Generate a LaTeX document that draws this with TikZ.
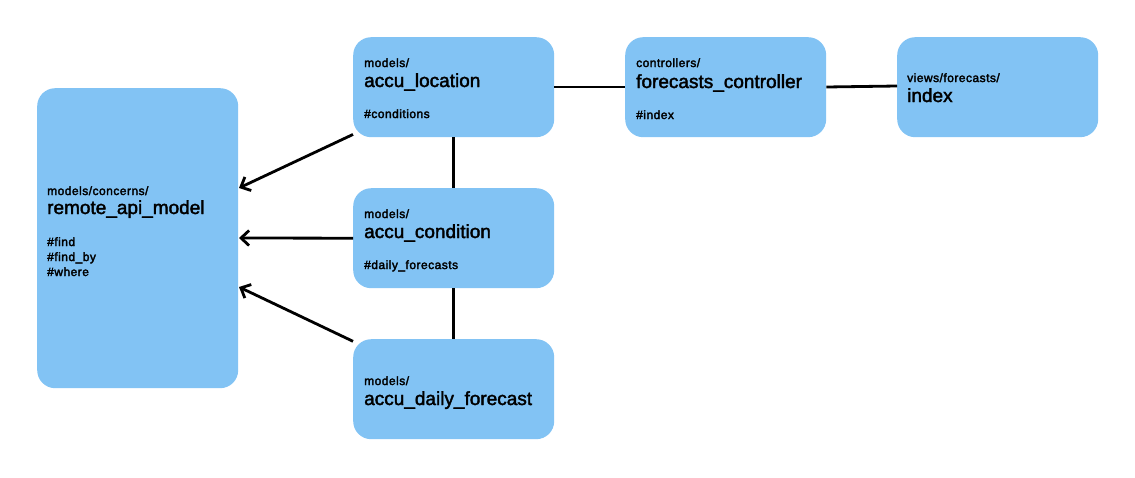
\documentclass[tikz,border=0pt]{standalone}
\usepackage{fontspec}
\setmainfont{Liberation Sans}
\newfontfamily\smallfont[FakeBold=2.5,LetterSpace=4]{Liberation Sans}
\newfontfamily\bigfont[FakeBold=2]{Liberation Sans}
\usetikzlibrary{arrows.meta}
\definecolor{boxblue}{RGB}{130,195,244}
\begin{document}
\begin{tikzpicture}[x=1pt,y=-1pt,
  box/.style={fill=boxblue, rounded corners=18pt, draw=none, inner sep=0pt, minimum width=201pt, anchor=north west},
  small/.style={anchor=base west, inner sep=0pt, font=\smallfont\fontsize{12}{14}\selectfont},
  big/.style={anchor=base west, inner sep=0pt, font=\bigfont\fontsize{19}{22}\selectfont},
  link/.style={line width=2.8pt, draw=black},
  arr/.style={link, -{Straight Barb[length=8pt,width=15pt]}}]
\useasboundingbox (0,0) rectangle (1135,477);
% boxes
\node[box, minimum height=300pt] (remote) at (37,88) {};
\node[box, minimum height=100pt] (loc) at (353,37) {};
\node[box, minimum height=100pt] (cond) at (353,188) {};
\node[box, minimum height=100pt] (daily) at (353,339) {};
\node[box, minimum height=100pt] (ctrl) at (625,37) {};
\node[box, minimum height=100pt] (idx) at (897,37) {};
% texts
\node[small] (rt1) at (47,195) {models/concerns/};
\node[big] (rt2) at (47,214) {remote\_api\_model};
\node[small] (rt3) at (47,246) {\#find};
\node[small] (rt4) at (47,261) {\#find\_by};
\node[small] (rt5) at (47,276) {\#where};
\node[small] (lt1) at (364,67) {models/};
\node[big] (lt2) at (364,87) {accu\_location};
\node[small] (lt3) at (364,118) {\#conditions};
\node[small] (ct1) at (364,218) {models/};
\node[big] (ct2) at (364,238) {accu\_condition};
\node[small] (ct3) at (364,269) {\#daily\_forecasts};
\node[small] (dt1) at (364,385) {models/};
\node[big] (dt2) at (364,405) {accu\_daily\_forecast};
\node[small] (kt1) at (636,67) {controllers/};
\node[big] (kt2) at (636,88) {forecasts\_controller};
\node[small] (kt3) at (636,119) {\#index};
\node[small] (it1) at (907,82) {views/forecasts/};
\node[big] (it2) at (907,102) {index};
% connectors
\coordinate (r1) at (239,188);
\coordinate (r2) at (239,238);
\coordinate (r3) at (239,287);
\draw[arr] (loc) -- (r1);
\draw[arr] (cond.west) -- (r2);
\draw[arr] (daily) -- (r3);
\draw[link] (loc.east |- 0,87) -- (ctrl.west |- 0,87);
\draw[link] (ctrl.east |- 0,87) -- (idx.west |- 0,86);
\draw[link] (loc.south) -- (cond.north);
\draw[link] (cond.south) -- (daily.north);
\end{tikzpicture}
\end{document}
